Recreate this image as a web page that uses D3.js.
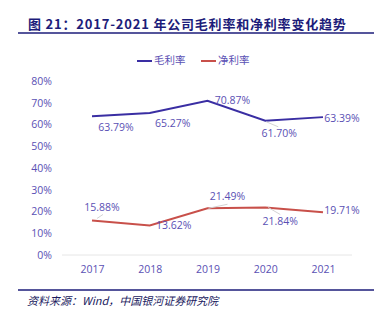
<!DOCTYPE html>
<html><head><meta charset="utf-8">
<script src="https://cdn.jsdelivr.net/npm/d3@7/dist/d3.min.js"></script>
<style>body{margin:0;background:#fff;}svg{display:block;}</style>
</head><body>
<script>
const years = ["2017","2018","2019","2020","2021"];
const grossMargin = [63.79, 65.27, 70.87, 61.70, 63.39];
const netMargin = [15.88, 13.62, 21.49, 21.84, 19.71];
const yTicks = [0,10,20,30,40,50,60,70,80];
const seriesNames = ["毛利率","净利率"];

const W=385,H=322;
const svg=d3.select("body").append("svg").attr("width",W).attr("height",H);
const navy="#1c1c7a", blue="#3a2ea3", red="#c8504a", txt="#5a50b4";
const font="'Noto Sans CJK SC','Noto Sans',sans-serif";

svg.append("text").attr("x",28).attr("y",29).attr("font-family",font).attr("font-weight","bold")
  .attr("font-size",13).attr("letter-spacing",0.8).attr("fill",navy).text("图 21：2017-2021 年公司毛利率和净利率变化趋势");
svg.append("line").attr("x1",18).attr("x2",374).attr("y1",33).attr("y2",33).attr("stroke",navy).attr("stroke-width",1.5);

const x=d3.scalePoint().domain(years).range([92,323]);
const y=d3.scaleLinear().domain([0,80]).range([255,81]);

svg.append("line").attr("x1",62).attr("x2",352).attr("y1",y(0)).attr("y2",y(0)).attr("stroke","#e6e6e6");

const ya=svg.append("g").attr("transform","translate(60,0)")
  .call(d3.axisLeft(y).tickValues(yTicks).tickFormat(d=>d+"%").tickSize(0).tickPadding(8));
ya.select(".domain").remove();
ya.selectAll("text").attr("font-family","'Open Sans',sans-serif").attr("font-size",10.5).attr("fill",txt);

const xa=svg.append("g").attr("transform","translate(0,264)")
  .call(d3.axisBottom(x).tickSize(0).tickPadding(2));
xa.select(".domain").remove();
xa.selectAll("text").attr("font-family","'Open Sans',sans-serif").attr("font-size",10.5).attr("fill",txt);

const line=d3.line().x((d,i)=>x(years[i])).y(d=>y(d));
svg.append("path").datum(grossMargin).attr("d",line).attr("fill","none").attr("stroke",blue).attr("stroke-width",2);
svg.append("path").datum(netMargin).attr("d",line).attr("fill","none").attr("stroke",red).attr("stroke-width",2);

// leader lines (drawn before labels)
const leaders=[[0,netMargin,[5,-2],[11,-6]],[3,grossMargin,[1,1],[13,6]],[2,netMargin,[1,0],[20,-4]],[3,netMargin,[3,0],[15,7]]];
leaders.forEach(l=>{
  const px=x(years[l[0]]), py=y(l[1][l[0]]);
  svg.append("line").attr("x1",px+l[2][0]).attr("y1",py+l[2][1]).attr("x2",px+l[3][0]).attr("y2",py+l[3][1])
    .attr("stroke","#d4d4d4").attr("stroke-width",1);
});

const gOff=[[24,12],[23,11],[25,0],[14,13],[19,2]];
const nOff=[[10,-12],[24,1],[20,-11],[15,15],[19,-1]];
const lblFont="'Open Sans',sans-serif";
function labels(vals,offs){
  vals.forEach((v,i)=>{
    const px=x(years[i]), py=y(v);
    svg.append("text").attr("x",px+offs[i][0]).attr("y",py+offs[i][1]).attr("text-anchor","middle")
      .attr("dominant-baseline","middle").attr("font-family",lblFont).attr("font-size",10.5).attr("fill",txt)
      .text(v.toFixed(2)+"%");
  });
}
labels(grossMargin,gOff);
labels(netMargin,nOff);

const lg=svg.append("g");
[[137,blue,seriesNames[0]],[201,red,seriesNames[1]]].forEach(d=>{
  lg.append("line").attr("x1",d[0]).attr("x2",d[0]+15).attr("y1",61).attr("y2",61).attr("stroke",d[1]).attr("stroke-width",2);
  lg.append("text").attr("x",d[0]+17).attr("y",61).attr("dominant-baseline","middle").attr("font-family",font)
    .attr("font-size",10.5).attr("fill",txt).text(d[2]);
});

svg.append("line").attr("x1",18).attr("x2",374).attr("y1",290).attr("y2",290).attr("stroke",navy).attr("stroke-width",1.5);
svg.append("text").attr("x",27).attr("y",305).attr("font-family",font).attr("font-style","italic")
  .attr("font-size",11).attr("fill","#1a1a5e").text("资料来源：Wind，中国银河证券研究院");
</script>
</body></html>
